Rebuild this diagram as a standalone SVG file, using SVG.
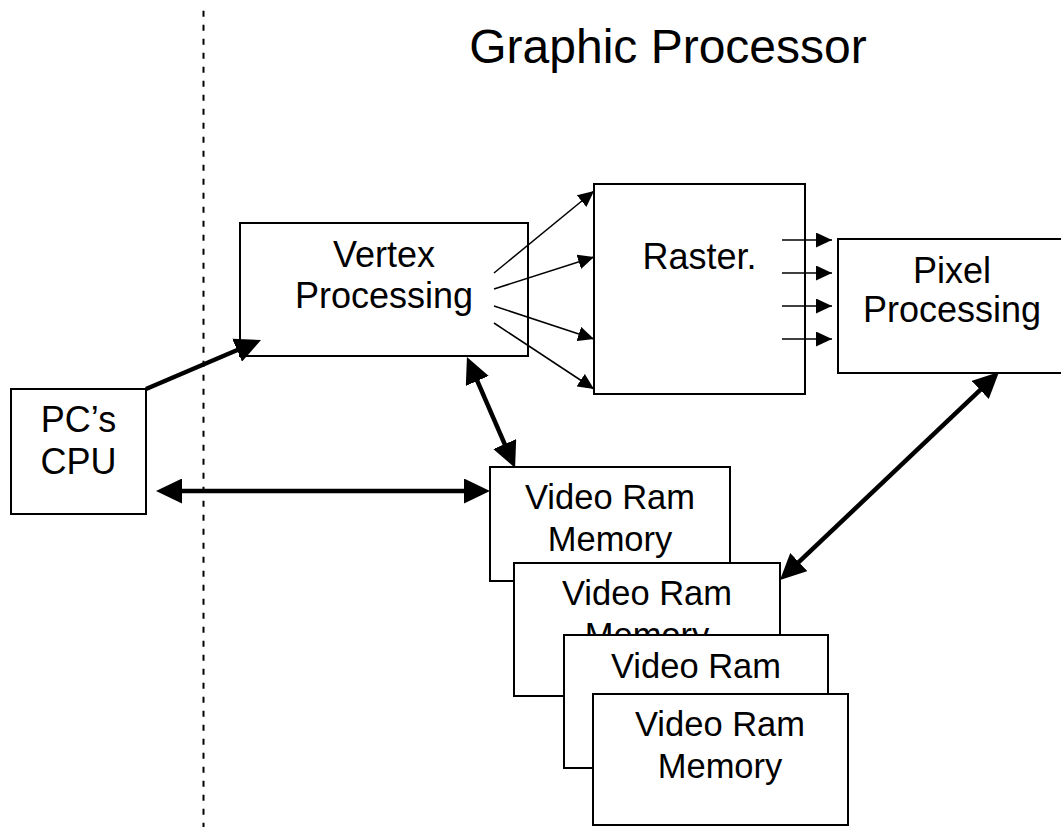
<svg xmlns="http://www.w3.org/2000/svg" width="1061" height="827" viewBox="0 0 1061 827">
<style>
.box{fill:#fff;stroke:#000;stroke-width:2}
.t{font-family:"Liberation Sans",Arial,sans-serif;font-size:36px;text-anchor:middle;fill:#000}
.tv{font-family:"Liberation Sans",Arial,sans-serif;font-size:34.5px;text-anchor:middle;fill:#000}
.thick{stroke:#000;stroke-width:4.5;fill:none}
.thin{stroke:#000;stroke-width:1.5;fill:none}
</style>
<defs>
<marker id="ah" markerUnits="userSpaceOnUse" markerWidth="26" markerHeight="25" viewBox="0 0 26 25" refX="6" refY="12.5" orient="auto-start-reverse"><path d="M0,0 L26,12.5 L0,25 z" fill="#000"/></marker>
<marker id="as" markerUnits="userSpaceOnUse" markerWidth="16" markerHeight="15" viewBox="0 0 16 15" refX="16" refY="7.5" orient="auto"><path d="M0,0 L16,7.5 L0,15 z" fill="#000"/></marker>
<clipPath id="clip2"><rect x="514" y="563" width="266" height="71"/></clipPath>
</defs>
<rect width="1061" height="827" fill="#fff"/>
<text class="t" x="668" y="63" style="font-size:48px">Graphic Processor</text>
<line x1="203.5" y1="10.7" x2="203.5" y2="827" stroke="#000" stroke-width="2" stroke-dasharray="6 8"/>
<g id="cpu"><rect class="box" x="11" y="389" width="135" height="125"/><text class="t" x="78.5" y="432">PC’s</text><text class="t" x="78.5" y="474">CPU</text></g>
<g id="vertex"><rect class="box" x="240" y="223" width="288" height="133"/><text class="t" x="384" y="267">Vertex</text><text class="t" x="384" y="308">Processing</text></g>
<g id="raster"><rect class="box" x="594" y="184" width="211" height="210"/><text class="t" x="699.5" y="269">Raster.</text></g>
<g id="pixel"><rect class="box" x="838" y="239" width="228" height="134"/><text class="t" x="952" y="283">Pixel</text><text class="t" x="952" y="322">Processing</text></g>
<g id="vram1"><rect class="box" x="490" y="467" width="240" height="114"/><text class="tv" x="610" y="509">Video Ram</text><text class="tv" x="610" y="551">Memory</text></g>
<g id="vram2"><rect class="box" x="514" y="563" width="266" height="133"/><text class="tv" x="647" y="605">Video Ram</text><text class="tv" x="647" y="647" clip-path="url(#clip2)">Memory</text></g>
<g id="vram3"><rect class="box" x="564" y="635" width="264" height="133"/><text class="tv" x="696" y="678">Video Ram</text></g>
<g id="vram4"><rect class="box" x="593" y="694" width="255" height="131"/><text class="tv" x="720" y="736">Video Ram</text><text class="tv" x="720" y="778">Memory</text></g>
<g id="connectors">
<line class="thick" x1="146" y1="389" x2="242.6" y2="347.8" marker-end="url(#ah)"/>
<line class="thick" x1="176" y1="491" x2="470" y2="491" marker-start="url(#ah)" marker-end="url(#ah)"/>
<line class="thick" x1="474.9" y1="375.4" x2="507.1" y2="449.6" marker-start="url(#ah)" marker-end="url(#ah)"/>
<line class="thick" x1="984.5" y1="385.8" x2="794.5" y2="566.2" marker-start="url(#ah)" marker-end="url(#ah)"/>
<line class="thin" x1="494" y1="273" x2="594" y2="191" marker-end="url(#as)"/>
<line class="thin" x1="494" y1="289" x2="594" y2="257" marker-end="url(#as)"/>
<line class="thin" x1="494" y1="306" x2="594" y2="339" marker-end="url(#as)"/>
<line class="thin" x1="494" y1="323" x2="594" y2="389" marker-end="url(#as)"/>
<line class="thin" x1="782" y1="240" x2="832" y2="240" marker-end="url(#as)"/>
<line class="thin" x1="782" y1="273" x2="832" y2="273" marker-end="url(#as)"/>
<line class="thin" x1="782" y1="306" x2="832" y2="306" marker-end="url(#as)"/>
<line class="thin" x1="782" y1="339" x2="832" y2="339" marker-end="url(#as)"/>
</g>
</svg>
